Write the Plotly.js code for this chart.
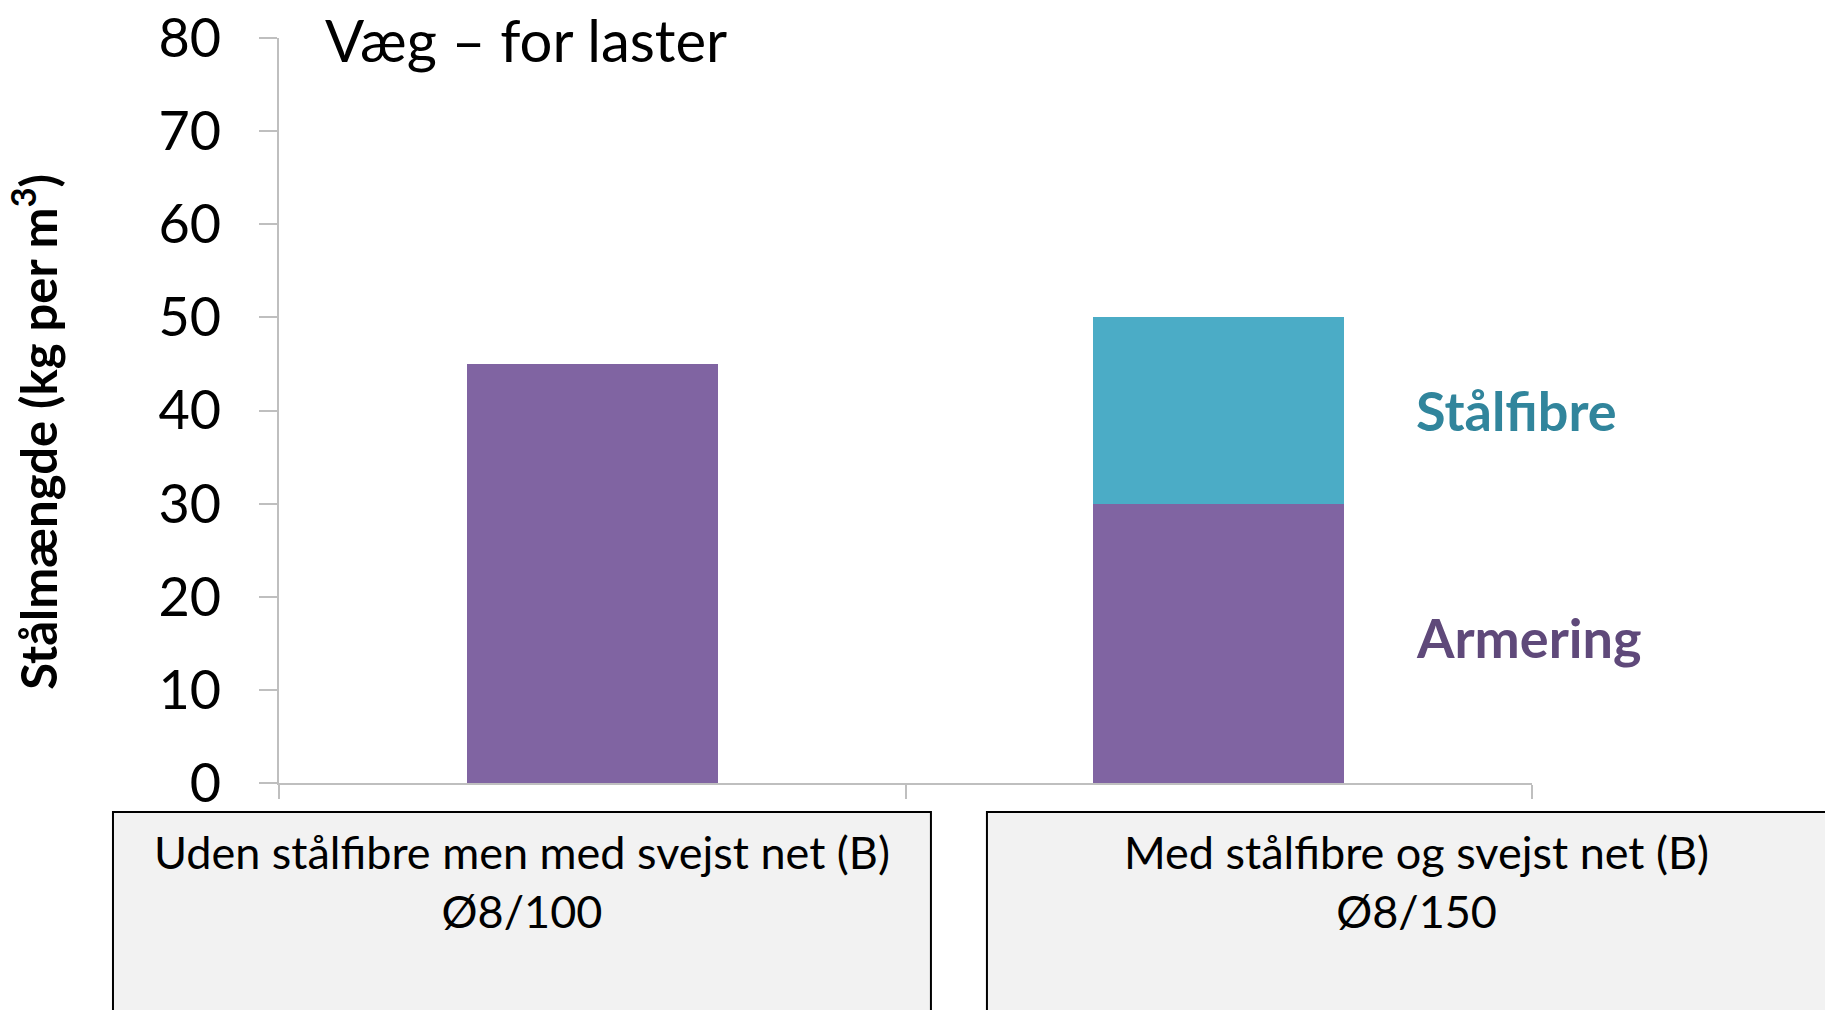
<!DOCTYPE html>
<html>
<head>
<meta charset="utf-8">
<script src="https://cdn.plot.ly/plotly-3.0.1.min.js"></script>
<style>html,body{margin:0;padding:0;background:#fff;}#chart{width:1825px;height:1010px;}</style>
</head>
<body>
<div id="chart"></div>
<script>
// ---- data ----
const categories = ["uden", "med"];
const boxLabels = ["Uden stålfibre men med svejst net (B)<br>Ø8/100", "Med stålfibre og svejst net (B)<br>Ø8/150"];
const armering = [45, 30];
const staalfibre = [null, 20];
const seriesNames = ["Armering", "Stålfibre"];
const yTicks = [0, 10, 20, 30, 40, 50, 60, 70, 80];
const chartTitle = "Væg – for laster";
const yTitle = "Stålmængde (kg per m<sup>3</sup>)";

const FONT = "Lato, 'Open Sans', sans-serif";
const purple = "#8064A2", teal = "#4BACC6";

const traces = [
  {type: "bar", x: categories, y: armering, name: seriesNames[0], marker: {color: purple, line: {width: 0}}, hoverinfo: "y"},
  {type: "bar", x: categories, y: staalfibre, name: seriesNames[1], marker: {color: teal, line: {width: 0}}, hoverinfo: "y"}
];

const annotations = [
  {text: chartTitle, xref: "paper", yref: "paper", x: 0.0351, y: 0.998, xanchor: "left", yanchor: "middle", showarrow: false, font: {family: FONT, size: 58, color: "#000"}},
  {text: yTitle, xref: "paper", yref: "paper", x: -0.1947, y: 0.4715, xanchor: "center", yanchor: "middle", textangle: -90, showarrow: false, font: {family: FONT, size: 49, color: "#000", weight: 700}},
  {text: "<b>" + seriesNames[1] + "</b>", xref: "paper", yref: "y", x: 0.906, y: 40, xanchor: "left", yanchor: "middle", showarrow: false, font: {family: FONT, size: 54, color: "#31859C"}},
  {text: "<b>" + seriesNames[0] + "</b>", xref: "paper", yref: "y", x: 0.906, y: 15.6, xanchor: "left", yanchor: "middle", showarrow: false, font: {family: FONT, size: 54, color: "#5F497A"}},
  {text: boxLabels[0], xref: "paper", yref: "paper", x: 0.1939, y: -0.1316, xanchor: "center", yanchor: "middle", showarrow: false, font: {family: FONT, size: 45, color: "#000"}},
  {text: boxLabels[1], xref: "paper", yref: "paper", x: 0.908, y: -0.1316, xanchor: "center", yanchor: "middle", showarrow: false, font: {family: FONT, size: 45, color: "#000"}}
];

const shapes = [
  {type: "rect", xref: "paper", yref: "paper", x0: -0.1325, x1: 0.5203, y0: -0.6, y1: -0.039, fillcolor: "#F2F2F2", line: {color: "#000", width: 2}, layer: "below"},
  {type: "rect", xref: "paper", yref: "paper", x0: 0.565, x1: 1.3, y0: -0.6, y1: -0.039, fillcolor: "#F2F2F2", line: {color: "#000", width: 2}, layer: "below"}
];

const layout = {
  width: 1825, height: 1010,
  margin: {l: 279, r: 293, t: 38, b: 227, pad: 0},
  paper_bgcolor: "#fff", plot_bgcolor: "#fff",
  barmode: "stack", bargap: 0.6,
  showlegend: false,
  font: {family: FONT, color: "#000"},
  xaxis: {
    type: "category", showticklabels: false, showgrid: false, zeroline: false,
    showline: true, linecolor: "#BFBFBF", linewidth: 2,
    ticks: "outside", tickson: "boundaries", ticklen: 14, tickcolor: "#BFBFBF", tickwidth: 2
  },
  yaxis: {
    range: [0, 80], tickvals: yTicks, showgrid: false, zeroline: false,
    showline: true, linecolor: "#BFBFBF", linewidth: 2,
    ticks: "outside", ticklen: 18, tickcolor: "#BFBFBF", tickwidth: 2,
    ticklabelstandoff: 27,
    tickfont: {family: FONT, size: 54, color: "#000"}
  },
  annotations: annotations,
  shapes: shapes
};

Plotly.newPlot("chart", traces, layout, {displayModeBar: false, staticPlot: true});
</script>
</body>
</html>
